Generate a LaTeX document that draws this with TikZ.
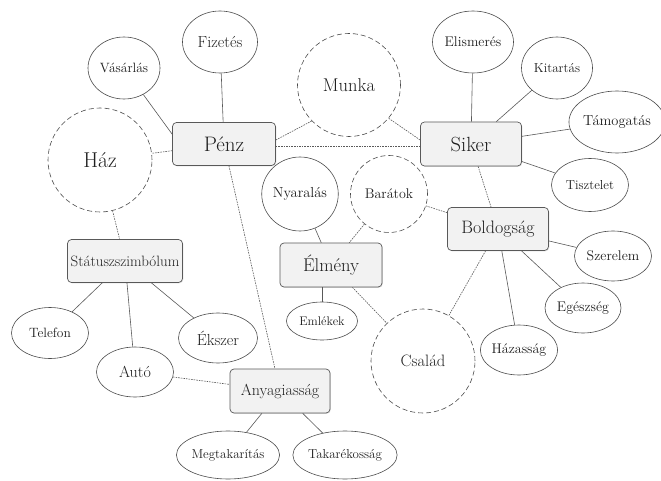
\documentclass[tikz,border=0pt]{standalone}
\usetikzlibrary{shapes.geometric,shadows}
\newcommand{\fs}[1]{\rmfamily\fontsize{#1}{#1}\selectfont}
\begin{document}
\begin{tikzpicture}[x=1pt,y=1pt,
  every node/.style={text=black!88},
  mainbox/.style={draw=black!65, line width=0.7pt, fill=black!5, rounded corners=4pt,
    drop shadow={shadow xshift=0.8pt, shadow yshift=-0.8pt, fill=black!25}, inner sep=0pt},
  leaf/.style={ellipse, draw=black!70, line width=0.6pt, fill=white, inner sep=0pt},
  dcirc/.style={circle, draw=black!70, line width=0.6pt, dash pattern=on 5pt off 3pt, fill=white, inner sep=0pt},
  solidline/.style={draw=black!65, line width=0.6pt},
  dotline/.style={draw=black!65, line width=0.6pt, dash pattern=on 1.6pt off 1pt}
]
\useasboundingbox (0,0) rectangle (661,480);

% main boxes
\node[mainbox, minimum width=103, minimum height=43, font=\fs{21}] (penz) at (224,336) {Pénz};
\node[mainbox, minimum width=101, minimum height=44, font=\fs{20.5}] (siker) at (471,336) {Siker};
\node[mainbox, minimum width=102, minimum height=44, font=\fs{18.5}] (elm) at (331,215) {Élmény};
\node[mainbox, minimum width=101, minimum height=43, font=\fs{18}] (bold) at (498,251) {Boldogság};
\node[mainbox, minimum width=115, minimum height=43, font=\fs{15}] (status) at (125,219) {Státuszszimbólum};
\node[mainbox, minimum width=100, minimum height=44, font=\fs{16}] (anyag) at (280,89) {Anyagiasság};

% dashed circles
\node[dcirc, minimum size=104, font=\fs{21.5}] (haz) at (100,320) {Ház};
\node[dcirc, minimum size=103, font=\fs{18.5}] (munka) at (349,395) {Munka};
\node[dcirc, minimum size=77, font=\fs{14}] (bar) at (389,286) {Barátok};
\node[dcirc, minimum size=104, font=\fs{16.5}] (csal) at (423,119) {Család};

% leaves
\node[leaf, minimum width=75, minimum height=62, font=\fs{16}] (fiz) at (220,438) {Fizetés};
\node[leaf, minimum width=72, minimum height=62, font=\fs{13.5}] (vas) at (124,412) {Vásárlás};
\node[leaf, minimum width=75, minimum height=74, font=\fs{14.5}] (nyar) at (300,286) {Nyaralás};
\node[leaf, minimum width=81, minimum height=62, font=\fs{14}] (elis) at (473,438) {Elismerés};
\node[leaf, minimum width=71, minimum height=62, font=\fs{13}] (kit) at (557,412) {Kitartás};
\node[leaf, minimum width=85, minimum height=62, font=\fs{14.5}] (tam) at (617,358) {Támogatás};
\node[leaf, minimum width=77, minimum height=53, font=\fs{13}] (tisz) at (590,295) {Tisztelet};
\node[leaf, minimum width=77, minimum height=50, font=\fs{14}] (szer) at (613,224) {Szerelem};
\node[leaf, minimum width=76, minimum height=50, font=\fs{14}] (egesz) at (583,172) {Egészség};
\node[leaf, minimum width=77, minimum height=50, font=\fs{14}] (hazas) at (519,130) {Házasság};
\node[leaf, minimum width=71, minimum height=38, font=\fs{12.5}] (emlek) at (322,159) {Emlékek};
\node[leaf, minimum width=77, minimum height=51, font=\fs{13.5}] (tel) at (50,147) {Telefon};
\node[leaf, minimum width=77, minimum height=50, font=\fs{16}] (auto) at (135,108) {Autó};
\node[leaf, minimum width=79, minimum height=50, font=\fs{16}] (eksz) at (218,142) {Ékszer};
\node[leaf, minimum width=97, minimum height=48, font=\fs{13}] (megt) at (228,25) {Megtakarítás};
\node[leaf, minimum width=98, minimum height=48, font=\fs{13}] (takar) at (345,25) {Takarékosság};

% solid connectors
\draw[solidline] (penz) -- (fiz);
\draw[solidline] ([yshift=-12pt]penz.north west) -- (vas);
\draw[solidline] (siker) -- (elis);
\draw[solidline] (siker) -- (kit);
\draw[solidline] (siker) -- (tam);
\draw[solidline] (siker) -- (tisz);
\draw[solidline] (bold) -- (szer);
\draw[solidline] (bold) -- (egesz);
\draw[solidline] (bold) -- (hazas);
\draw[solidline] (status) -- (tel);
\draw[solidline] (status) -- (auto);
\draw[solidline] (status) -- (eksz);
\draw[solidline] (anyag) -- (megt);
\draw[solidline] (anyag) -- (takar);
\draw[solidline] (emlek.north) -- (emlek.north |- elm.south);
\draw[solidline] (elm) -- (nyar);

% dotted connectors
\draw[dotline] (penz) -- (haz);
\draw[dotline] ([yshift=4pt]penz.east) -- (munka.224);
\draw[dotline] ([yshift=-2pt]penz.east) -- ([yshift=-2pt]siker.west);
\draw[dotline] (munka.320) -- ([yshift=4pt]siker.west);
\draw[dotline] (haz) -- (status);
\draw[dotline] (penz) -- (anyag);
\draw[dotline] (auto) -- (anyag);
\draw[dotline] (siker) -- (bold);
\draw[dotline] (bar) -- (elm);
\draw[dotline] (bar) -- (bold);
\draw[dotline] (elm) -- (csal);
\draw[dotline] (bold) -- (csal);
\end{tikzpicture}
\end{document}
